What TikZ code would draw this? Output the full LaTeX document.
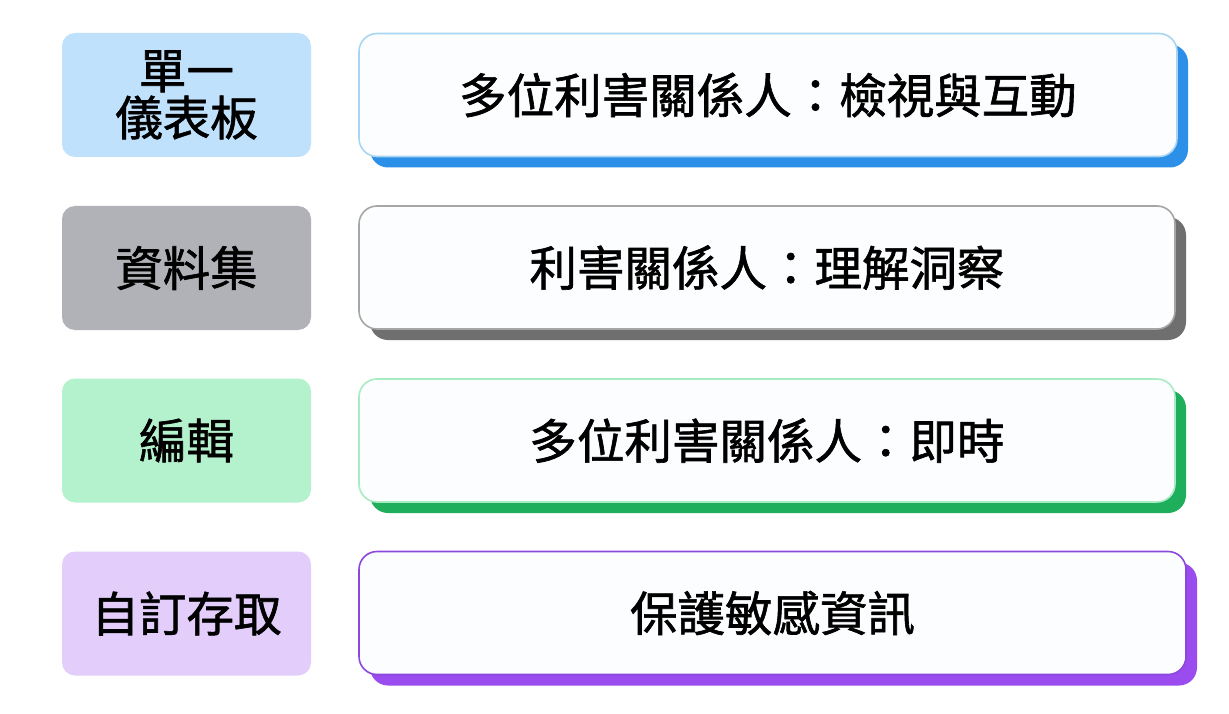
\documentclass[tikz,border=0pt]{standalone}
\usepackage{fontspec}
\newfontfamily\cjk[FakeBold=1.3]{Noto Sans CJK TC}
\usetikzlibrary{shadows}
\definecolor{lblue}{HTML}{BFE1FB}
\definecolor{lgray}{HTML}{B1B2B7}
\definecolor{lgreen}{HTML}{B4F1CD}
\definecolor{lpurple}{HTML}{E2CDFB}
\definecolor{sblue}{HTML}{2C8FE8}
\definecolor{sgray}{HTML}{6F6F6F}
\definecolor{sgreen}{HTML}{1FAE5C}
\definecolor{spurple}{HTML}{9A4CEE}
\definecolor{bblue}{HTML}{A9D5F2}
\definecolor{bgray}{HTML}{A6A6A6}
\definecolor{bgreen}{HTML}{A9EBC3}
\definecolor{bpurple}{HTML}{8C47DC}
\definecolor{cardfill}{HTML}{FBFDFE}
\tikzset{
  tagbox/.style={rounded corners=13pt, minimum width=249pt, minimum height=124pt,
    inner sep=0pt, align=center, font=\cjk\fontsize{47.5}{47}\selectfont, text=black},
  card/.style 2 args={rounded corners=18pt, minimum height=123pt,
    inner sep=0pt, fill=cardfill, draw=#1, line width=1.6pt,
    font=\cjk\fontsize{47.5}{47}\selectfont, text=black,
    drop shadow={shadow xshift=11pt, shadow yshift=-11pt, fill=#2, opacity=1}},
}
\begin{document}
\begin{tikzpicture}[x=1pt,y=-1pt]
\useasboundingbox[fill=white] (0,0) rectangle (1229,714);
% left tags
\node[tagbox, fill=lblue]   (t1) at (186.5,95)   {單一\\儀表板};
\node[tagbox, fill=lgray]   (t2) at (186.5,268)  {資料集};
\node[tagbox, fill=lgreen]  (t3) at (186.5,440.5){編輯};
\node[tagbox, fill=lpurple] (t4) at (186.5,613.5){自訂存取};
% right cards
\node[card={bblue}{sblue}, minimum width=818pt]     (c1) at (768,95)    {多位利害關係人：檢視與互動};
\node[card={bgray}{sgray}, minimum width=816pt]     (c2) at (767,267.5) {利害關係人：理解洞察};
\node[card={bgreen}{sgreen}, minimum width=816pt]   (c3) at (767,440.5) {多位利害關係人：即時};
\node[card={bpurple}{spurple}, minimum width=827pt] (c4) at (772.5,613)  {保護敏感資訊};
\end{tikzpicture}
\end{document}
